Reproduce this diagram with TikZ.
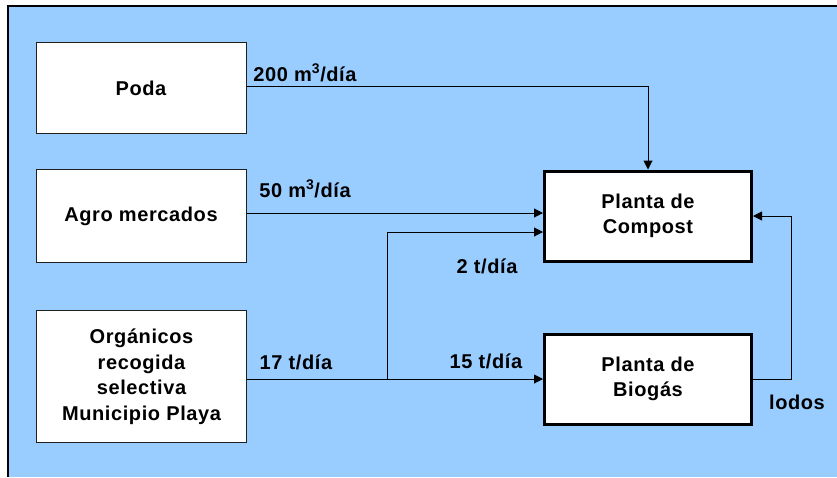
\documentclass[tikz,border=0pt]{standalone}
\usepackage{fontspec}
\setmainfont{Liberation Sans}[LetterSpace=3]
\usepackage{xcolor}
\usepackage{tikz}
\usetikzlibrary{arrows.meta,positioning}
\definecolor{flBack}{HTML}{99CCFF}
\definecolor{flEdge}{HTML}{202020}

\begin{document}
\begin{tikzpicture}[x=1pt,y=-1pt,
    font=\fontsize{20}{25.5}\selectfont\bfseries,
    srcbox/.style={draw=flEdge,line width=1pt,fill=white,minimum width=210pt,align=center,inner sep=0pt},
    plantbox/.style={draw=black,line width=3pt,fill=white,minimum width=207pt,minimum height=90pt,align=center,inner sep=0pt},
    flow/.style={line width=1pt,-{Triangle[length=9pt,width=9pt]}},
    qty/.style={inner sep=0pt}]
    \useasboundingbox (0,0) rectangle (837,477);
    % frame
    \fill[flBack] (8,6) rectangle (837,477);
    \draw[line width=1.2pt] (8,477) -- (8,6) -- (837,6);
    % sources
    \node[srcbox,minimum height=91pt] (poda) at (141,88) {Poda};
    \node[srcbox,minimum height=93pt] (agro) at (141,216) {Agro mercados};
    \node[srcbox,minimum height=132pt] (org) at (141.5,376.5) {Orgánicos\\recogida\\selectiva\\Municipio Playa};
    % plants
    \node[plantbox] (compost) at (648,216) {Planta de\\Compost};
    \node[plantbox] (biogas) at (648,379) {Planta de\\Biogás};
    \coordinate (split) at (387,379);
    % flows
    \draw[flow] ([yshift=2pt]poda.east) -| (compost.north);
    \draw[flow] ([yshift=3pt]agro.east) -- ([yshift=3pt]agro.east -| compost.west);
    \draw[line width=1pt] (org.east |- split) -- (split);
    \draw[flow] (split) -- (biogas.west);
    \draw[flow] (split) |- ([yshift=-16pt]compost.west);
    \draw[flow] (biogas.east) -- ++(38,0) |- (compost.east);
    % quantities
    \node[qty] (qpoda) at (305,73) {200 m\textsuperscript{3}/día};
    \node[qty] (qagro) at (305,189) {50 m\textsuperscript{3}/día};
    \node[qty] (qdos) at (487,266) {2 t/día};
    \node[qty] (qorg) at (296,362) {17 t/día};
    \node[qty] (qbio) at (486,361) {15 t/día};
    \node[qty] (qlodos) at (797,402) {lodos};
\end{tikzpicture}
\end{document}
